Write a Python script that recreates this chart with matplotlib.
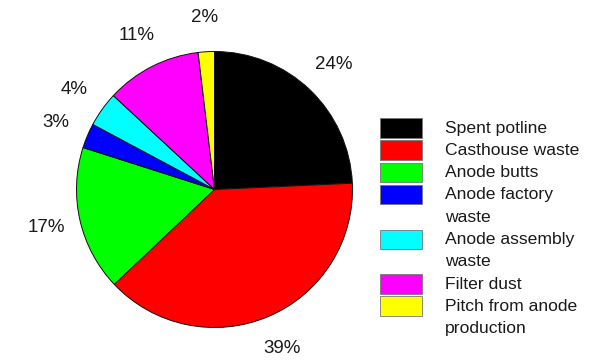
import matplotlib
matplotlib.use('Agg')
import matplotlib.pyplot as plt
from matplotlib.patches import Rectangle

# Share of waste streams (percent)
labels = ['Spent potline', 'Casthouse waste', 'Anode butts', 'Anode factory\nwaste',
          'Anode assembly\nwaste', 'Filter dust', 'Pitch from anode\nproduction']
shares = [24.3, 38.7, 17.0, 2.9, 4.1, 11.2, 1.9]
colors = ['#000000', '#ff0000', '#00ff00', '#0000ff', '#00ffff', '#ff00ff', '#ffff00']

plt.rcParams['font.family'] = ['Liberation Sans', 'DejaVu Sans']
text_col = '#1a1a1a'

W, H = 597, 363
fig = plt.figure(figsize=(W / 100, H / 100), dpi=100)

# pie axes: centre (214, 189) px, radius 138 px
cx, cy, r = 214.5, 189.5, 138
ax = fig.add_axes([(cx - r) / W, (H - cy - r) / H, 2 * r / W, 2 * r / H])
wedges, texts, autotexts = ax.pie(
    shares, colors=colors, startangle=90, counterclock=False,
    autopct=lambda p: f'{p:.0f}%', pctdistance=1.25,
    wedgeprops=dict(edgecolor='#111111', linewidth=0.7),
    textprops=dict(fontsize=13.5, color=text_col))
ax.set_xlim(-1, 1)
ax.set_ylim(-1, 1)
ax.set_aspect('equal')
ax.axis('off')

# legend drawn in pixel space
lg = fig.add_axes([0, 0, 1, 1])
lg.set_xlim(0, W)
lg.set_ylim(H, 0)
lg.axis('off')
step = 22.3
line = 0
for lab, col in zip(labels, colors):
    top = 118 + step * line
    lg.add_patch(Rectangle((380, top), 41.5, 19.5, facecolor=col,
                           edgecolor='#777777', linewidth=0.6))
    for k, part in enumerate(lab.split('\n')):
        lg.text(445, top + 10 + step * k, part, fontsize=12.6, color=text_col,
                ha='left', va='center')
    line += lab.count('\n') + 1

fig.savefig('out.png', dpi=100)
